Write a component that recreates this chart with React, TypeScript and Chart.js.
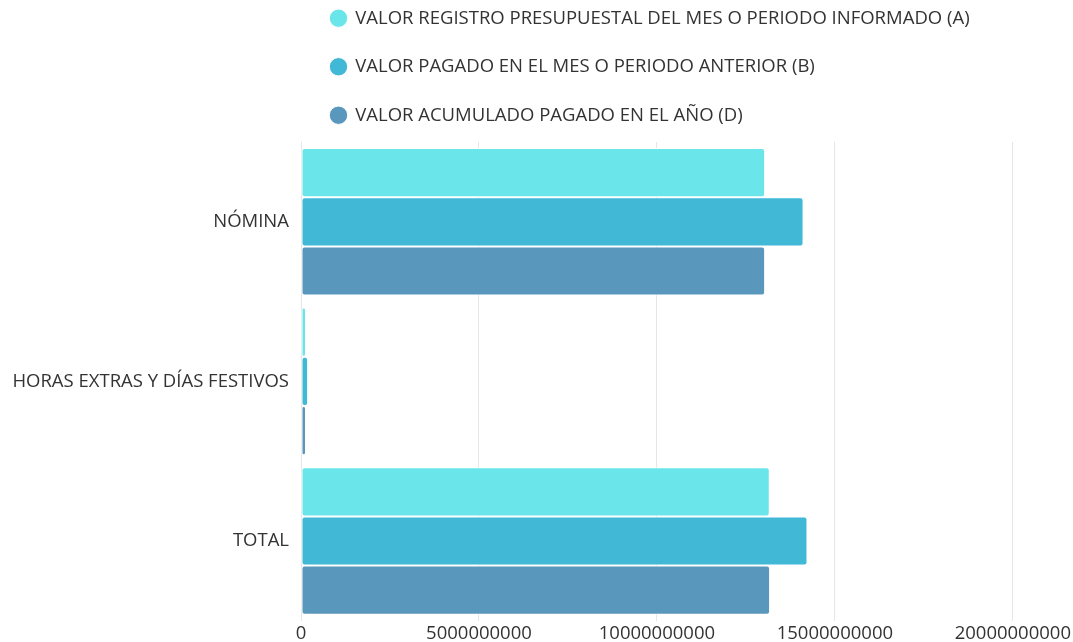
import React, { useEffect, useRef } from "react";
import { Chart, registerables } from "chart.js";

Chart.register(...registerables);

const categories = ["NÓMINA", "HORAS EXTRAS Y DÍAS FESTIVOS", "TOTAL"];
const seriesLabels = [
  "VALOR REGISTRO PRESUPUESTAL DEL MES O PERIODO INFORMADO (A)",
  "VALOR PAGADO EN EL MES O PERIODO ANTERIOR (B)",
  "VALOR ACUMULADO PAGADO EN EL AÑO (D)",
];
const valorRegistroA = [13040000000, 140000000, 13170000000];
const valorPagadoB = [14120000000, 200000000, 14230000000];
const valorAcumuladoD = [13040000000, 140000000, 13180000000];
const seriesColors = ["#6ae6ea", "#40b8d6", "#5a97bd"];
const xMin = 0;
const xMax = 20000000000;
const xStep = 5000000000;

const FONT = "'Open Sans', 'DejaVu Sans', sans-serif";
const FONT_SIZE = 18.5;

export default function App() {
  const canvasRef = useRef<HTMLCanvasElement | null>(null);

  useEffect(() => {
    if (!canvasRef.current) return;
    const seriesValues = [valorRegistroA, valorPagadoB, valorAcumuladoD];
    const chart = new Chart(canvasRef.current, {
      type: "bar",
      data: {
        labels: categories,
        datasets: seriesLabels.map((label, i) => ({
          label,
          data: seriesValues[i],
          backgroundColor: seriesColors[i],
          borderColor: "#ffffff",
          borderWidth: 1,
          borderRadius: 3,
          borderSkipped: false,
          categoryPercentage: 0.925,
          barPercentage: 1,
        })),
      },
      options: {
        indexAxis: "y",
        animation: false,
        responsive: true,
        maintainAspectRatio: false,
        layout: { padding: { left: 0, right: 6.5, top: 0, bottom: 0 } },
        plugins: {
          tooltip: { enabled: false },
          legend: {
            display: true,
            position: "top",
            align: "start",
            fullSize: false,
            labels: {
              usePointStyle: true,
              pointStyle: "circle",
              boxWidth: 15,
              boxHeight: 13,
              padding: 30,
              color: "#333333",
              font: { family: FONT, size: FONT_SIZE },
            },
          },
          title: {
            display: true,
            text: "",
            position: "top",
            weight: 0,
            fullSize: false,
            font: { size: 7, lineHeight: 1 },
            padding: { top: 0, bottom: 0.5 },
          },
        },
        scales: {
          x: {
            type: "linear",
            min: xMin,
            max: xMax,
            grid: {
              color: "#e6e6e6",
              lineWidth: 1,
              drawTicks: false,
            },
            border: { display: false },
            ticks: {
              stepSize: xStep,
              padding: 2,
              color: "#333333",
              font: { family: FONT, size: FONT_SIZE },
              maxRotation: 0,
              callback: (v: any) => String(v),
            },
          },
          y: {
            type: "category",
            grid: { display: false, drawTicks: false },
            border: { display: false },
            ticks: {
              padding: 12,
              color: "#333333",
              font: { family: FONT, size: FONT_SIZE },
            },
            afterFit: (scale: any) => {
              scale.width = 301;
            },
          },
        },
      },
    });
    return () => chart.destroy();
  }, []);

  return (
    <div
      style={{
        position: "absolute",
        left: 0,
        top: -21,
        width: 1073,
        height: 668,
      }}
    >
      <canvas ref={canvasRef} />
    </div>
  );
}
